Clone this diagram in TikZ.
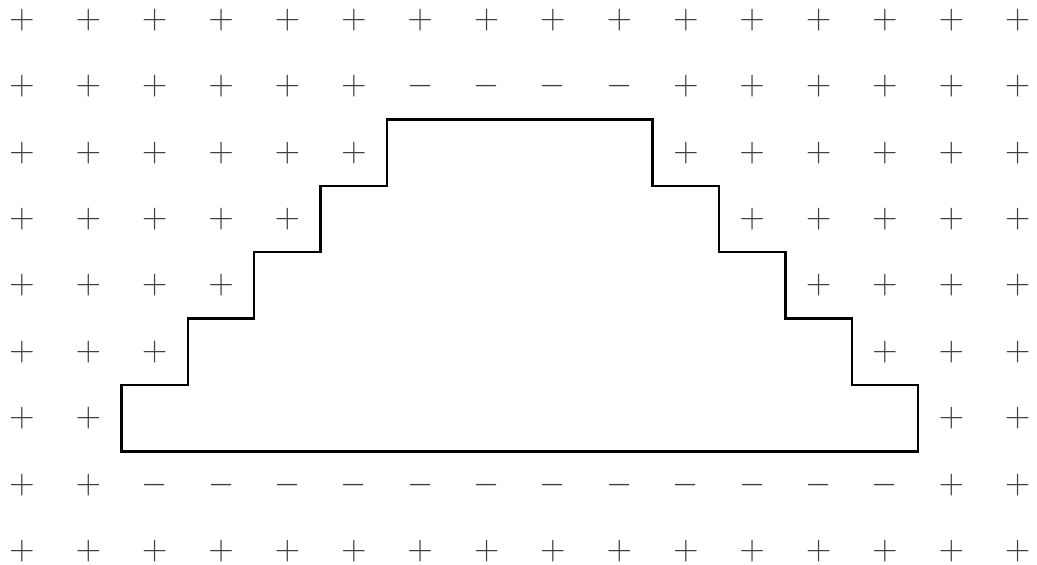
\documentclass[tikz,border=0pt]{standalone}
\usepackage{amssymb}
\usepackage{amsmath}
\usepackage{tikz}
\usetikzlibrary{positioning}
\tikzstyle{sign} = [inner sep=0pt, text=black!75, font=\Large]

\begin{document}
\begin{tikzpicture}[x=1cm, y=-1cm]
  \useasboundingbox (-0.33,-0.3) rectangle (15.29,8.2);
  % grid of signs, minus where listed
  \foreach \j in {0,...,8} {
    \foreach \i in {0,...,15} {
      \pgfmathtruncatemacro{\inside}{
        (\j==2 && \i>=6 && \i<=9) || (\j==3 && \i>=5 && \i<=10) ||
        (\j==4 && \i>=4 && \i<=11) || (\j==5 && \i>=3 && \i<=12) ||
        (\j==6 && \i>=2 && \i<=13)}
      \pgfmathtruncatemacro{\minus}{
        (\j==1 && \i>=6 && \i<=9) || (\j==7 && \i>=2 && \i<=13)}
      \ifnum\inside=0
        \ifnum\minus=1
          \node [sign] (s-\i-\j) at (\i,\j) {$-$};
        \else
          \node [sign] (s-\i-\j) at (\i,\j) {$+$};
        \fi
      \fi
    }
  }
  % stepped region
  \draw [line width=1pt] (1.5,6.5) -- (1.5,5.5) -- (2.5,5.5) -- (2.5,4.5) -- (3.5,4.5)
    -- (3.5,3.5) -- (4.5,3.5) -- (4.5,2.5) -- (5.5,2.5) -- (5.5,1.5)
    -- (9.5,1.5) -- (9.5,2.5) -- (10.5,2.5) -- (10.5,3.5) -- (11.5,3.5)
    -- (11.5,4.5) -- (12.5,4.5) -- (12.5,5.5) -- (13.5,5.5) -- (13.5,6.5)
    -- cycle;
\end{tikzpicture}
\end{document}
